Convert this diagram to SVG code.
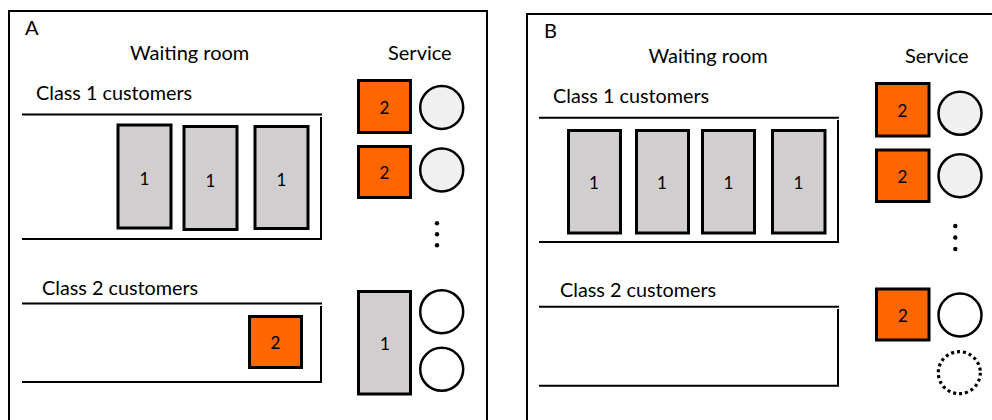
<svg xmlns="http://www.w3.org/2000/svg" width="992" height="420" viewBox="0 0 992 420">
  <style>
    .frame { fill: none; stroke: #000; stroke-width: 2; }
    .queue { fill: none; stroke: #000; stroke-width: 2; }
    .c1 { fill: #d0cece; stroke: #000; stroke-width: 3; }
    .c2 { fill: #ff6600; stroke: #000; stroke-width: 3; }
    .busy { fill: #f0f0f0; stroke: #000; stroke-width: 2.5; }
    .idle { fill: #fff; stroke: #000; stroke-width: 2.5; }
    .absent { fill: none; stroke: #000; stroke-width: 3.2; stroke-dasharray: 3 3; }
    .dot { fill: #000; }
    .head { font-family: Lato, "Open Sans", "Liberation Sans", sans-serif; font-size: 20px; fill: #000; }
    .lbl { font-family: Lato, "Open Sans", "Liberation Sans", sans-serif; font-size: 19.8px; fill: #000; }
    .num { font-family: Lato, "Open Sans", "Liberation Sans", sans-serif; font-size: 17px; fill: #000; text-anchor: middle; dominant-baseline: central; }
  </style>

  <!-- Panel A -->
  <g id="panelA">
    <rect class="frame" x="9" y="11" width="478" height="430"/>
    <text class="head" x="25" y="35">A</text>
    <text class="head" x="130" y="60">Waiting room</text>
    <text class="head" x="388" y="60">Service</text>
    <text class="lbl" x="36" y="100">Class 1 customers</text>
    <text class="lbl" x="42" y="295">Class 2 customers</text>
  </g>
  <g id="A-queue1">
    <path class="queue" d="M22 114.5 H322 M321 117 V239 M22 239 H322"/>
  </g>
  <g id="A-queue2">
    <path class="queue" d="M22 303.5 H322 M321 306 V382 M22 382 H322"/>
  </g>
  <g id="A-waiting">
    <g id="A-w1"><rect class="c1" x="118" y="125" width="53" height="103"/><text class="num" x="144.5" y="178">1</text></g>
    <g id="A-w2"><rect class="c1" x="184" y="126.5" width="53" height="103"/><text class="num" x="210.5" y="180">1</text></g>
    <g id="A-w3"><rect class="c1" x="255" y="126.5" width="53" height="102"/><text class="num" x="281.5" y="179">1</text></g>
    <g id="A-w4"><rect class="c2" x="249.5" y="316.5" width="52" height="51"/><text class="num" x="275.5" y="342">2</text></g>
  </g>
  <g id="A-service">
    <g id="A-s1"><rect class="c2" x="358.5" y="80.5" width="52" height="52"/><text class="num" x="384.5" y="107">2</text><circle class="busy" cx="441.7" cy="107.5" r="21.5"/></g>
    <g id="A-s2"><rect class="c2" x="358.5" y="146.5" width="52" height="51"/><text class="num" x="384.5" y="172">2</text><circle class="busy" cx="441.7" cy="170" r="21.5"/></g>
    <g id="A-dots"><circle class="dot" cx="437" cy="223.3" r="2.2"/><circle class="dot" cx="437" cy="234.3" r="2.2"/><circle class="dot" cx="437" cy="245.3" r="2.2"/></g>
    <g id="A-s3"><rect class="c1" x="358.5" y="291.5" width="52" height="102.5"/><text class="num" x="385" y="343">1</text>
      <circle class="idle" cx="441.7" cy="311.7" r="21.5"/><circle class="idle" cx="441.7" cy="369.3" r="21.5"/></g>
  </g>

  <!-- Panel B -->
  <g id="panelB">
    <rect class="frame" x="527" y="14" width="480" height="430"/>
    <text class="head" x="544" y="38">B</text>
    <text class="head" x="648.5" y="63">Waiting room</text>
    <text class="head" x="905" y="63">Service</text>
    <text class="lbl" x="553" y="103">Class 1 customers</text>
    <text class="lbl" x="560" y="297">Class 2 customers</text>
  </g>
  <g id="B-queue1">
    <path class="queue" d="M539 117.7 H839 M838 120 V242 M539 242 H839"/>
  </g>
  <g id="B-queue2">
    <path class="queue" d="M539 306.7 H839 M838 309 V385.7 M539 385.7 H839"/>
  </g>
  <g id="B-waiting">
    <g id="B-w1"><rect class="c1" x="568.5" y="130.5" width="52" height="102.5"/><text class="num" x="594" y="182.5">1</text></g>
    <g id="B-w2"><rect class="c1" x="636.5" y="130.5" width="52" height="102.5"/><text class="num" x="662" y="182.5">1</text></g>
    <g id="B-w3"><rect class="c1" x="702.5" y="130.5" width="52" height="102.5"/><text class="num" x="728.5" y="182.5">1</text></g>
    <g id="B-w4"><rect class="c1" x="772.5" y="130.5" width="52.5" height="102.5"/><text class="num" x="798.5" y="182.5">1</text></g>
  </g>
  <g id="B-service">
    <g id="B-s1"><rect class="c2" x="876.5" y="83.5" width="52.5" height="52.5"/><text class="num" x="902.5" y="110">2</text><circle class="busy" cx="960" cy="113.3" r="21.5"/></g>
    <g id="B-s2"><rect class="c2" x="876.5" y="150" width="52.5" height="51.5"/><text class="num" x="902.5" y="176">2</text><circle class="busy" cx="960" cy="175.7" r="21.5"/></g>
    <g id="B-dots"><circle class="dot" cx="955.3" cy="226" r="2.2"/><circle class="dot" cx="955.3" cy="237.5" r="2.2"/><circle class="dot" cx="955.3" cy="249" r="2.2"/></g>
    <g id="B-s3"><rect class="c2" x="876.5" y="289" width="52.5" height="51"/><text class="num" x="903" y="315">2</text><circle class="idle" cx="960" cy="315" r="21.5"/></g>
    <g id="B-s4"><circle class="absent" cx="959.3" cy="372.7" r="21"/></g>
  </g>
</svg>
